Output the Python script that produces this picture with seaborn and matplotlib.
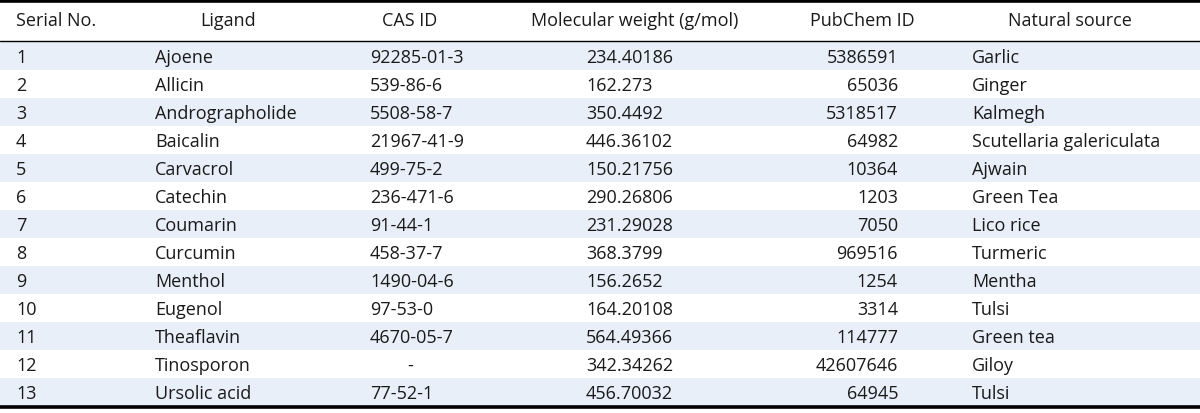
import matplotlib
matplotlib.use("Agg")
import matplotlib.pyplot as plt
import seaborn as sns

# table contents
headers = ["Serial No.", "Ligand", "CAS ID", "Molecular weight (g/mol)", "PubChem ID", "Natural source"]
serial = [str(i) for i in range(1, 14)]
ligands = ["Ajoene", "Allicin", "Andrographolide", "Baicalin", "Carvacrol", "Catechin", "Coumarin",
           "Curcumin", "Menthol", "Eugenol", "Theaflavin", "Tinosporon", "Ursolic acid"]
cas_ids = ["92285-01-3", "539-86-6", "5508-58-7", "21967-41-9", "499-75-2", "236-471-6", "91-44-1",
           "458-37-7", "1490-04-6", "97-53-0", "4670-05-7", "-", "77-52-1"]
mol_weights = ["234.40186", "162.273", "350.4492", "446.36102", "150.21756", "290.26806", "231.29028",
               "368.3799", "156.2652", "164.20108", "564.49366", "342.34262", "456.70032"]
pubchem_ids = ["5386591", "65036", "5318517", "64982", "10364", "1203", "7050",
               "969516", "1254", "3314", "114777", "42607646", "64945"]
sources = ["Garlic", "Ginger", "Kalmegh", "Scutellaria galericulata", "Ajwain", "Green Tea", "Lico rice",
           "Turmeric", "Mentha", "Tulsi", "Green tea", "Giloy", "Tulsi"]

sns.set_theme(style="white")
plt.rcParams["font.family"] = ["Open Sans", "DejaVu Sans"]

fig = plt.figure(figsize=(12, 4.14), dpi=100)
ax = fig.add_axes([0, 0, 1, 1])
ax.set_xlim(0, 1200)
ax.set_ylim(414, 0)
ax.axis("off")

fs = 13
header_y = 21
row_top = 43
row_h = 28

# header centres
header_x = [16, 228, 410, 635, 862, 1070]
header_ha = ["left", "center", "center", "center", "center", "center"]
for h, x, ha in zip(headers, header_x, header_ha):
    ax.text(x, header_y, h, ha=ha, va="center", fontsize=fs, color="#1a1a1a")

columns = [serial, ligands, cas_ids, mol_weights, pubchem_ids, sources]
col_x = [16, 155, 370, 586, 898, 972]
col_ha = ["left", "left", "left", "left", "right", "left"]

for i in range(len(ligands)):
    y0 = row_top + i * row_h
    if i % 2 == 0:
        ax.axhspan(y0, y0 + row_h, color="#e8eff8", lw=0, zorder=0)
    for col, x, ha in zip(columns, col_x, col_ha):
        txt = col[i]
        if col is cas_ids and txt == "-":
            x = 410
            ha = "center"
        ax.text(x, y0 + row_h / 2 + 1, txt, ha=ha, va="center", fontsize=fs, color="#1a1a1a")

# rules
ax.axhline(1.5, color="black", lw=2.6)
ax.axhline(42, color="black", lw=1.0)
ax.axhline(row_top + len(ligands) * row_h + 1.5, color="black", lw=2.6)

fig.savefig("out.png", dpi=100)
